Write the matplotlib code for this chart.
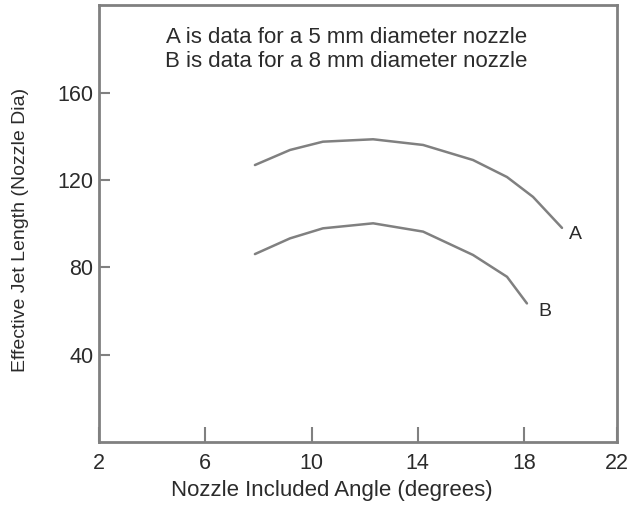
import matplotlib
matplotlib.use("Agg")
import matplotlib.pyplot as plt

# values
angle_a = [7.87, 9.19, 10.43, 12.32, 14.2, 16.08, 17.36, 18.34, 19.43]
jet_a = [126.9, 133.8, 137.6, 138.7, 136.1, 129.2, 121.4, 112.3, 98.1]
angle_b = [7.87, 9.19, 10.43, 12.32, 14.2, 16.08, 17.36, 18.11]
jet_b = [86.1, 93.3, 97.9, 100.2, 96.4, 85.7, 75.7, 63.5]

x_ticks = [2, 6, 10, 14, 18, 21.5]
x_ticklabels = ["2", "6", "10", "14", "18", "22"]
y_ticks = [40, 80, 120, 160]

plt.rcParams["font.family"] = ["Liberation Sans", "DejaVu Sans"]
ink = "#2b2b2b"
grey = "#808080"

fig = plt.figure(figsize=(6.33, 5.08), dpi=100)
ax = fig.add_axes([0.1564, 0.1299, 0.8183, 0.8593])

ax.plot(angle_a, jet_a, color=grey, lw=1.8, solid_capstyle="round")
ax.plot(angle_b, jet_b, color=grey, lw=1.8, solid_capstyle="round")
ax.text(19.92, 95, "A", fontsize=14, color=ink, ha="center", va="center")
ax.text(18.79, 59.7, "B", fontsize=14, color=ink, ha="center", va="center")

ax.text(0.478, 0.90, "A is data for a 5 mm diameter nozzle\nB is data for a 8 mm diameter nozzle",
        transform=ax.transAxes, ha="center", va="center", fontsize=16,
        color=ink, linespacing=1.2)

ax.set_xlim(2, 21.5)
ax.set_ylim(0, 200)
ax.set_xticks(x_ticks)
ax.set_xticklabels(x_ticklabels)
ax.set_yticks(y_ticks)
ax.tick_params(direction="in", length=8, width=1.5, colors=grey,
               labelcolor=ink, labelsize=15.5)
ax.tick_params(axis="x", length=11, pad=8)
ax.tick_params(axis="y", pad=4)

for s in ax.spines.values():
    s.set_color(grey)
    s.set_linewidth(2)

ax.set_xlabel("Nozzle Included Angle (degrees)", fontsize=16, color=ink)
ax.xaxis.set_label_coords(0.45, -0.088)
ax.set_ylabel("Effective Jet Length (Nozzle Dia)", fontsize=14, color=ink)
ax.yaxis.set_label_coords(-0.135, 0.485)

fig.savefig("out.png", dpi=100)
